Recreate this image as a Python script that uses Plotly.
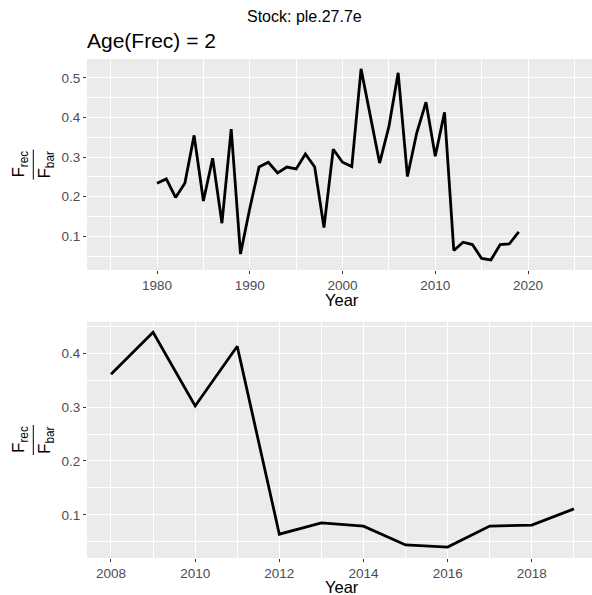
import plotly.graph_objects as go

# ---- data ----
years = list(range(1980, 2020))
frec_fbar = [0.234, 0.245, 0.198, 0.234, 0.355, 0.189, 0.297, 0.133, 0.371, 0.055,
             0.170, 0.275, 0.287, 0.260, 0.275, 0.270, 0.308, 0.275, 0.122, 0.320,
             0.287, 0.276, 0.523, 0.399, 0.285, 0.377, 0.513, 0.251, 0.361, 0.439,
             0.302, 0.413, 0.064, 0.085, 0.079, 0.044, 0.040, 0.079, 0.081, 0.111]
recent_start = 2008
top_xticks = [1980, 1990, 2000, 2010, 2020]
top_yticks = [0.1, 0.2, 0.3, 0.4, 0.5]
bot_xticks = [2008, 2010, 2012, 2014, 2016, 2018]
bot_yticks = [0.1, 0.2, 0.3, 0.4]
title_text = "Stock: ple.27.7e"
subtitle_text = "Age(Frec) = 2"

rec_years = [y for y in years if y >= recent_start]
rec_vals = [v for y, v in zip(years, frec_fbar) if y >= recent_start]

W, H = 592, 595
L, R, T, B = 87, 0, 59, 37
PW, PH = W - L - R, H - T - B

def px2x(px):
    return (px - L) / PW

def py2y(py):
    return (H - B - py) / PH

FONT = "Liberation Sans, Arial, sans-serif"
TICKC = "#4D4D4D"

fig = go.Figure()
fig.add_trace(go.Scatter(x=years, y=frec_fbar, mode="lines",
                         line=dict(color="black", width=2.8),
                         xaxis="x", yaxis="y", showlegend=False))
fig.add_trace(go.Scatter(x=rec_years, y=rec_vals, mode="lines",
                         line=dict(color="black", width=2.8),
                         xaxis="x2", yaxis="y2", showlegend=False))

common_axis = dict(showgrid=True, gridcolor="white", gridwidth=1.4,
                   zeroline=False, showline=False, ticks="outside", ticklen=3,
                   tickcolor="#333333", tickwidth=1.1, automargin=False,
                   tickfont=dict(family=FONT, size=13.5, color=TICKC))

top_dom = [py2y(270), 1.0]
bot_dom = [0.0, py2y(321.7)]

fig.update_layout(
    width=W, height=H,
    margin=dict(l=L, r=R, t=T, b=B),
    paper_bgcolor="white", plot_bgcolor="#EBEBEB",
    showlegend=False,
    xaxis=dict(domain=[0, 1], range=[1972.45, 2026.9], anchor="y",
               tickvals=top_xticks,
               minor=dict(dtick=5, tick0=1975, showgrid=True, gridcolor="white",
                          gridwidth=0.7, ticks=""),
               **common_axis),
    yaxis=dict(domain=top_dom, range=[0.0147, 0.548], anchor="x",
               tickvals=top_yticks, tickformat=".1f",
               minor=dict(dtick=0.1, tick0=0.05, showgrid=True, gridcolor="white",
                          gridwidth=0.7, ticks=""),
               **common_axis),
    xaxis2=dict(domain=[0, 1], range=[2007.43, 2019.43], anchor="y2",
                tickvals=bot_xticks,
                minor=dict(dtick=2, tick0=2009, showgrid=True, gridcolor="white",
                           gridwidth=0.7, ticks=""),
                **common_axis),
    yaxis2=dict(domain=bot_dom, range=[0.0198, 0.4585], anchor="x2",
                tickvals=bot_yticks, tickformat=".1f",
                minor=dict(dtick=0.1, tick0=0.05, showgrid=True, gridcolor="white",
                           gridwidth=0.7, ticks=""),
                **common_axis),
)

ann = []
# overall title
ann.append(dict(text=title_text, x=px2x(304), y=py2y(16), xref="paper", yref="paper",
                xanchor="center", yanchor="middle", showarrow=False,
                font=dict(family=FONT, size=16, color="black")))
# subtitle
ann.append(dict(text=subtitle_text, x=px2x(85), y=py2y(41), xref="paper", yref="paper",
                xanchor="left", yanchor="middle", showarrow=False,
                font=dict(family=FONT, size=21, color="black")))
# x titles
for yc in (300, 587):
    ann.append(dict(text="Year", x=px2x(342), y=py2y(yc), xref="paper", yref="paper",
                    xanchor="center", yanchor="middle", showarrow=False,
                    font=dict(family=FONT, size=16.5, color="black")))
# y titles (fractions)
shapes = []
for yc in (164.6, 440):
    ann.append(dict(text="F<sub>rec</sub>", x=px2x(20), y=py2y(yc), xref="paper", yref="paper",
                    xanchor="center", yanchor="middle", showarrow=False, textangle=-90,
                    font=dict(family=FONT, size=17, color="black")))
    ann.append(dict(text="F<sub>bar</sub>", x=px2x(46), y=py2y(yc), xref="paper", yref="paper",
                    xanchor="center", yanchor="middle", showarrow=False, textangle=-90,
                    font=dict(family=FONT, size=17, color="black")))
    shapes.append(dict(type="line", xref="paper", yref="paper",
                       x0=px2x(33.3), x1=px2x(33.3), y0=py2y(yc - 15), y1=py2y(yc + 15),
                       line=dict(color="black", width=1)))

fig.update_layout(annotations=ann, shapes=shapes)
fig.write_html("out.html", config={"displayModeBar": False},
               post_script="document.body.style.margin='0';document.body.style.overflow='hidden';")
